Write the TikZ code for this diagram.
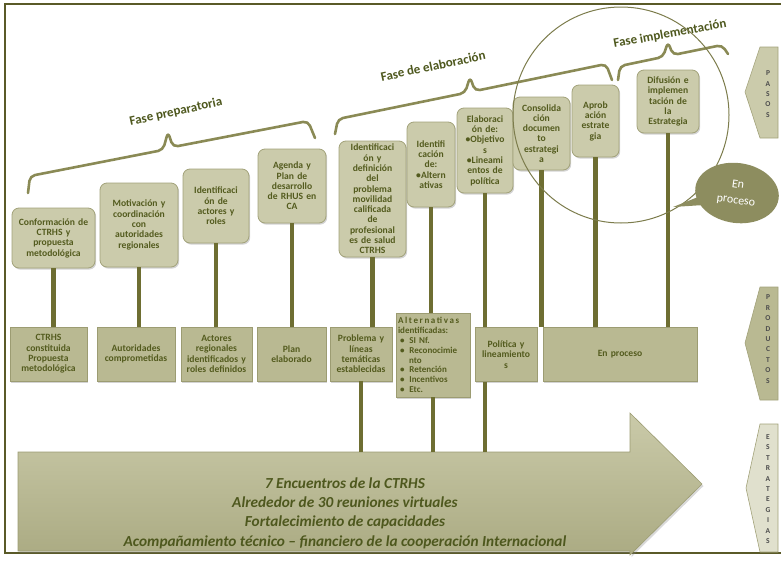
\documentclass[tikz,border=0pt]{standalone}
\usepackage{fontspec}
\setmainfont{Carlito}
\usetikzlibrary{positioning, shapes.callouts, shadows}

\definecolor{framecol}{HTML}{5A5A28}
\definecolor{boxtext}{HTML}{535B1E}
\definecolor{stepfill}{HTML}{CBCBAB}
\definecolor{stepdraw}{HTML}{A2A27A}
\definecolor{prodfill}{HTML}{B9B992}
\definecolor{proddraw}{HTML}{9C9C72}
\definecolor{conncol}{HTML}{6E6E32}
\definecolor{bracecol}{HTML}{8A8A55}
\definecolor{phasetext}{HTML}{4E581E}
\definecolor{bubblecol}{HTML}{8D8D5F}
\definecolor{arrowtop}{HTML}{CACAA9}
\definecolor{arrowbot}{HTML}{ABAB83}

\begin{document}
\begin{tikzpicture}[
    x=1pt, y=-1pt,
    stepbox/.style={draw=stepdraw, fill=stepfill, line width=0.8pt, rounded corners=7pt,
        align=center, inner sep=1pt, text=boxtext,
        font=\fontsize{9.6}{10.3}\selectfont\bfseries,
        drop shadow={shadow xshift=1.2pt, shadow yshift=-1.6pt, opacity=0.35}},
    prodbox/.style={draw=proddraw, fill=prodfill, line width=0.8pt,
        align=center, inner sep=1pt, text=boxtext,
        font=\fontsize{9.6}{10.3}\selectfont\bfseries,
        minimum height=54pt,
        drop shadow={shadow xshift=1.2pt, shadow yshift=-1.6pt, opacity=0.35}},
    conn/.style={draw=conncol, line width=4.5pt},
    bracket/.style={draw=bracecol, line width=2.6pt, rounded corners=5pt, line cap=round},
    phase/.style={font=\fontsize{13}{14}\selectfont\bfseries, text=phasetext},
    chev/.style={draw=stepdraw, line width=0.6pt},
    chevtext/.style={font=\fontsize{7.5}{10.4}\selectfont\bfseries, text=black!70, align=center, inner sep=0pt},
    ring/.style={draw=bracecol!90!black, line width=1pt}
]
\useasboundingbox (0,0) rectangle (781,560);

% Frame
\draw[framecol, line width=1.6pt] (781,4) -- (5,4) -- (5,553) -- (781,553);

% Phases
\draw[bracket] (28,193) -- (30,176) -- (163,150) -- (168,132) -- (173,147) -- (308,121) -- (315,138);
\node[phase, rotate=12.5] (fprep) at (176,112) {Fase preparatoria};
\draw[bracket] (335,134) -- (338,119) -- (465,93) -- (470,77) -- (475,91) -- (606,64) -- (612,80);
\node[phase, rotate=12] (felab) at (433,66) {Fase de elaboración};
\draw[bracket] (618,80) -- (620,66) -- (663,57) -- (668,42) -- (673,55) -- (722,45) -- (728,54);
\node[phase, rotate=10.5] (fimpl) at (670,34) {Fase implementación};

% Steps
\node[stepbox, minimum width=83pt, minimum height=60pt, text width=79pt] (s1) at (53.5,238)
    {Conformación de\\CTRHS y\\propuesta\\metodológica};
\node[stepbox, minimum width=78pt, minimum height=84pt, text width=74pt] (s2) at (139,225)
    {Motivación y\\coordinación\\con\\autoridades\\regionales};
\node[stepbox, minimum width=66pt, minimum height=74pt, text width=62pt] (s3) at (216,206)
    {Identificaci\\ón de\\actores y\\roles};
\node[stepbox, minimum width=68pt, minimum height=74pt, text width=64pt] (s4) at (292,186)
    {Agenda y\\Plan de\\desarrollo\\de RHUS en\\CA};
\node[stepbox, minimum width=67pt, minimum height=116pt, text width=63pt] (s5) at (372.5,199)
    {Identificaci\\ón y\\definición\\del\\problema\\movilidad\\calificada\\de\\profesional\\es de salud\\CTRHS};
\node[stepbox, minimum width=48pt, minimum height=85pt, text width=44pt] (s6) at (431,164.5)
    {Identifi\\cación\\de:\\\textbullet Altern\\ativas};
\node[stepbox, minimum width=56pt, minimum height=85pt, text width=52pt] (s7) at (485,150.5)
    {Elaboraci\\ón de:\\\textbullet Objetivo\\s\\\textbullet Lineami\\entos de\\política};
\node[stepbox, minimum width=57pt, minimum height=73pt, text width=53pt] (s8) at (541.5,133.5)
    {Consolida\\ción\\documen\\to\\estrategi\\a};
\node[stepbox, minimum width=47pt, minimum height=72pt, text width=43pt] (s9) at (595.5,121)
    {Aprob\\ación\\estrate\\gia};
\node[stepbox, minimum width=62pt, minimum height=63pt, text width=58pt] (s10) at (668,101.5)
    {Difusión e\\implemen\\tación de\\la\\Estrategia};

% Products
\node[prodbox, minimum width=77pt, text width=73pt] (p1) at (48.5,354)
    {CTRHS\\constituida\\Propuesta\\metodológica};
\node[prodbox, minimum width=78pt, text width=74pt] (p2) at (136,354)
    {Autoridades\\comprometidas};
\node[prodbox, minimum width=71pt, text width=67pt] (p3) at (216.5,354)
    {Actores\\regionales\\identificados y\\roles definidos};
\node[prodbox, minimum width=69pt, text width=65pt] (p4) at (291.5,354)
    {Plan\\elaborado};
\node[prodbox, minimum width=62pt, text width=58pt] (p5) at (361,354)
    {Problema y\\líneas\\temáticas\\establecidas};
\node[prodbox, minimum width=74pt, minimum height=84pt, text width=70pt, align=left,
    font=\fontsize{9}{9.9}\selectfont\bfseries] (p6) at (433,355)
    {{\addfontfeature{LetterSpace=18}Alternativas}\\identificadas:\\
     \hspace{2pt}\textbullet\hspace{5pt}SI Nf.\\
     \hspace{2pt}\textbullet\hspace{5pt}Reconocimie\\
     \hspace{11pt}nto\\
     \hspace{2pt}\textbullet\hspace{5pt}Retención\\
     \hspace{2pt}\textbullet\hspace{5pt}Incentivos\\
     \hspace{2pt}\textbullet\hspace{5pt}Etc.};
\node[prodbox, minimum width=62pt, text width=58pt] (p7) at (506,354.5)
    {Política y\\lineamiento\\s};
\node[prodbox, minimum width=154pt, text width=150pt] (p8) at (620,354.5)
    {En proceso};

% Strategies arrow
\coordinate (atop) at (18,452);
\shade[top color=arrowtop, bottom color=arrowbot, draw=proddraw, line width=0.6pt,
    drop shadow={shadow xshift=1.5pt, shadow yshift=-2pt, opacity=0.3}]
    (atop) -- (630,452) -- (630,413) -- (702,484) -- (630,555) -- (630,551) -- (18,551) -- cycle;
\node[font=\fontsize{15.3}{19.3}\selectfont\bfseries\itshape, text=phasetext, align=center] (estr) at (345,513)
    {7 Encuentros de la CTRHS\\Alrededor de 30 reuniones virtuales\\Fortalecimiento de capacidades\\Acompañamiento técnico – financiero de la cooperación Internacional};

% Connections
\draw[conn] (s1.south) -- (s1.south |- p1.north);
\draw[conn] (s2.south) -- (s2.south |- p2.north);
\draw[conn] (s3.south) -- (s3.south |- p3.north);
\draw[conn] (s4.south) -- (s4.south |- p4.north);
\draw[conn] (s5.south) -- (s5.south |- p5.north);
\draw[conn] (s6.south) -- (s6.south |- p6.north);
\draw[conn] (s7.south) -- (s7.south |- p7.north);
\draw[conn] (s8.south) -- (s8.south |- p8.north);
\draw[conn] (s9.south) -- (s9.south |- p8.north);
\draw[conn] (s10.south) -- (s10.south |- p8.north);
\draw[conn] (p5.south) -- (p5.south |- atop);
\draw[conn] (p6.south) -- (p6.south |- atop);
\draw[conn] (s7.south |- p7.south) -- (s7.south |- atop);

% Row labels
\path[chev, fill=stepfill] (778,47) -- (760,47) -- (745,92) -- (760,138) -- (778,138) -- cycle;
\node[chevtext] (lpasos) at (768,94) {P\\A\\S\\O\\S};
\path[chev, fill=prodfill] (778,287) -- (760,287) -- (745,343) -- (760,400) -- (778,400) -- cycle;
\node[chevtext] (lprod) at (768,339) {P\\R\\O\\D\\U\\C\\T\\O\\S};
\path[chev, fill=stepfill!60!white] (778,424) -- (760,424) -- (746,488) -- (760,552) -- (778,552) -- cycle;
\node[chevtext] (lestr) at (768,489) {E\\S\\T\\R\\A\\T\\E\\G\\I\\A\\S};

% In process
\draw[ring] (621,115) circle [radius=108pt];
\node[ellipse callout, fill=bubblecol, minimum width=84pt, minimum height=60pt, rotate=-8,
    callout absolute pointer={(673,207)}, text=white, align=center,
    font=\fontsize{12}{16}\selectfont] (enproc) at (737,193) {En\\proceso};
\end{tikzpicture}
\end{document}
